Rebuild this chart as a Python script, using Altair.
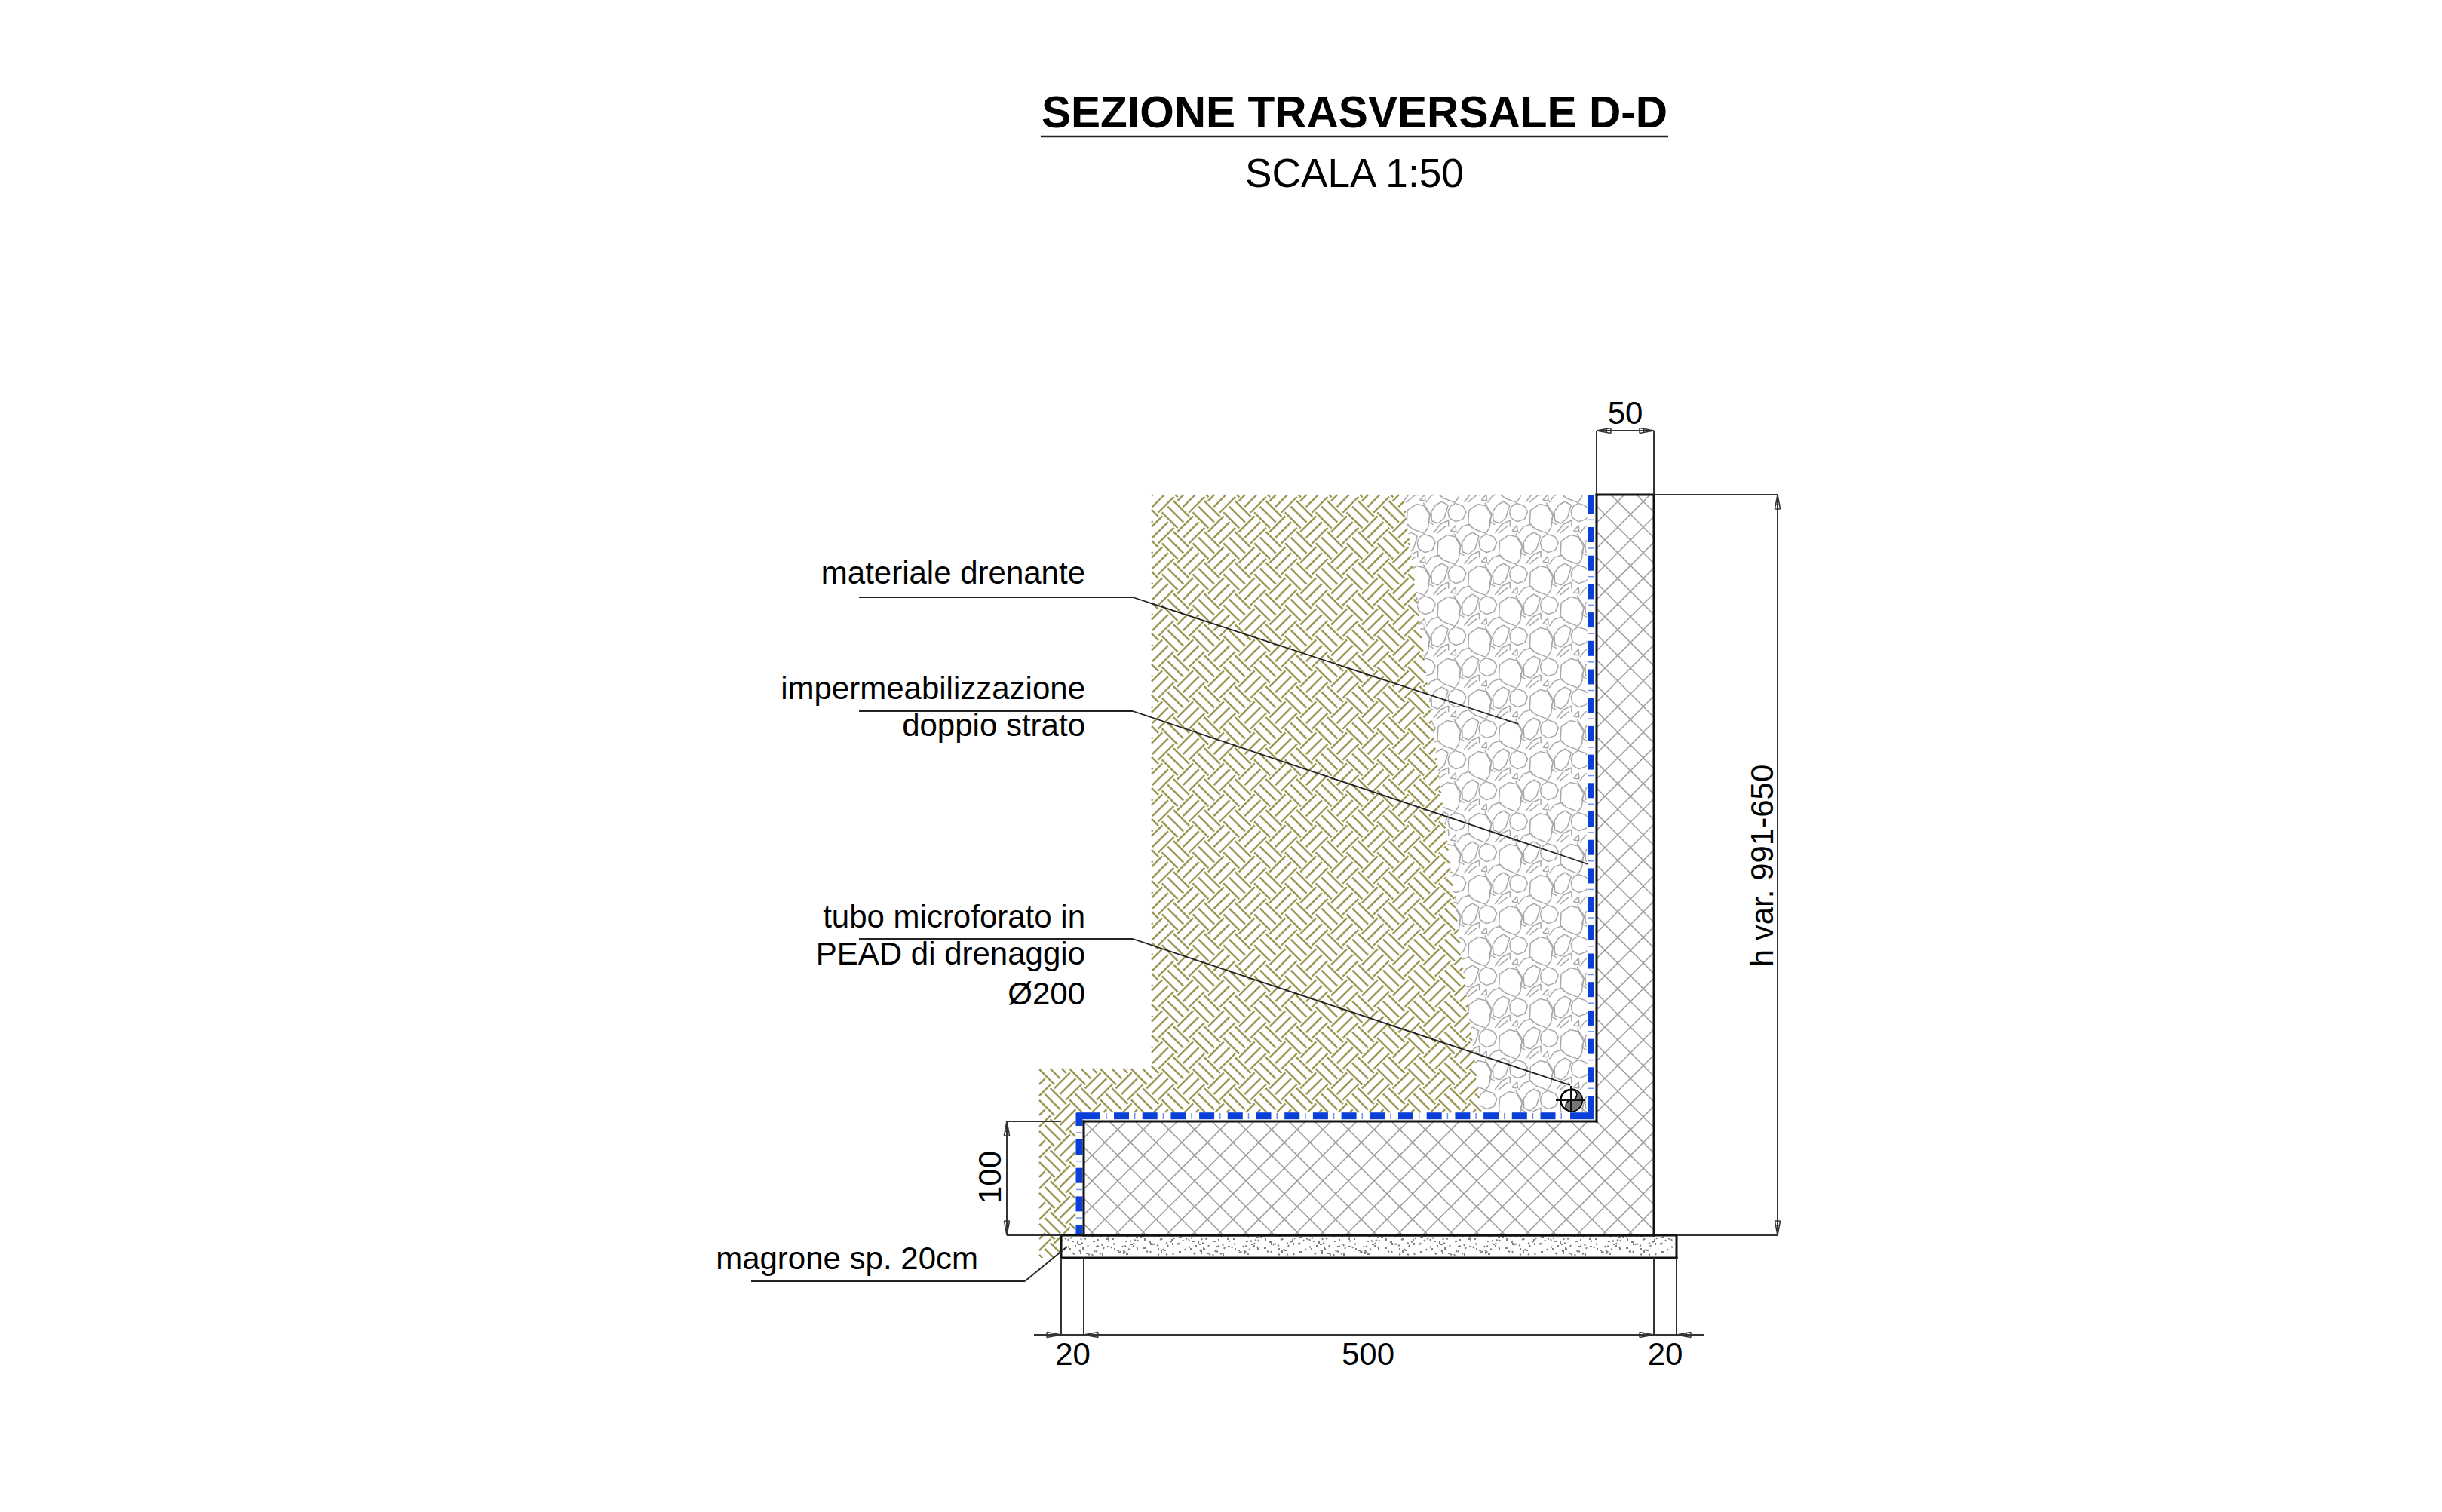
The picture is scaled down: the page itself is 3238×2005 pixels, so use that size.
import math
import altair as alt
import pandas as pd

alt.data_transformers.disable_max_rows()

W, H = 3238, 2005

# ---- drawing outlines (drawing units)
soil_poly = [(1527,656),(1861,656),(1964,1475),(1426,1475),(1426,1638),(1407,1638),(1407,1668),(1378,1668),(1378,1417),(1527,1417)]
gravel_poly = [(1861,656),(2104,656),(2104,1475),(1964,1475)]
concrete_poly = [(2117,656),(2193,656),(2193,1638),(1437,1638),(1437,1487),(2117,1487)]
magrone_poly = [(1407,1638),(2223,1638),(2223,1668),(1407,1668)]

# gravel motif: closed stones and open fragments around one cell origin
stones = [
    [(-2.7,-18.3),(7.3,-16),(14.7,-3.3),(12.3,13.3),(7.3,20.7),(-7.7,15),(-16,8.3),(-15,-10)],
    [(30.7,-21.7),(39,-16.7),(34,0),(25.7,7.3),(17.3,4),(16.7,-8.3),(22.3,-16.7)],
    [(-33.3,-19.3),(-23.3,-16),(-18.7,-8.3),(-22.7,1.7),(-32.7,5),(-41,0),(-42.7,-8.3),(-40,-15)],
    [(-32.7,10),(-39.3,17.3),(-32,18.3)],
]
fragments = [
    [(-62,20),(-52.7,8.3),(-42,3.3),(-42,11.7)],
    [(-57.7,20.7),(-45.3,10.7)],
    [(-31,20.7),(-24.3,11.7),(-14.3,8.3),(-11,13.3)],
    [(-69.3,5),(-66,-5),(-72.7,-15),(-75.3,-20)],
    [(-69.3,5),(-62,9)],
]
# concrete speckle, one tile
speck_x = [4,8,11,18,22,26,23,28,25,32,35,40,15,11,45,47,53,50,54,59,61,65,68,70,73,75,80,83,82,85,90,95,88,100,108,112,117,103,110,115,130,132,122,128,135,138,147,143,147,155,127]
speck_y = [12,13,12,21,20,18,27,27,30,32,33,33,33,25,23,22,20,33,32,13,15,23,20,25,28,30,22,23,30,33,15,18,27,25,25,29,29,10,12,17,13,12,20,25,28,33,32,17,18,30,33]

# blue membrane
dash_w = 9
dash_period = 37.7
dash_len = 20

# dimension line tips (x, y, direction dx, dy)
arrow_x = [2117,2193,2357,2357,1335,1335,1407,1437,2193,2223]
arrow_y = [571,571,656,1638,1487,1638,1770,1770,1770,1770]
arrow_dx = [1,-1,0,0,0,0,-1,1,-1,1]
arrow_dy = [0,0,1,-1,1,-1,0,0,0,0]

# thin lines
dim_lines = [
    [(2117,571),(2193,571)],[(2117,571),(2117,656)],[(2193,571),(2193,656)],
    [(2193,656),(2357,656)],[(2357,656),(2357,1638)],[(2223,1638),(2357,1638)],
    [(1335,1487),(1407,1487)],[(1335,1638),(1407,1638)],[(1335,1487),(1335,1638)],
    [(1371,1770),(2260,1770)],
    [(1407,1668),(1407,1770)],[(1437,1668),(1437,1770)],[(2193,1668),(2193,1770)],[(2223,1668),(2223,1770)],
]
leaders = [
    [(1139,792),(1502,792),(2013,960)],
    [(1139,943),(1502,943),(2106,1146)],
    [(1139,1245),(1502,1245),(2082,1439)],
    [(996,1699),(1359,1699),(1415,1653)],
]
pipe_lines = [[(2063,1459),(2102,1459)],[(2083,1440),(2083,1475)]]
pipe_x = [2083.3]
pipe_y = [1459]

# text
title_text = ["SEZIONE TRASVERSALE D-D"]
title_line = [(1380,181),(2212,181)]
scale_text = ["SCALA 1:50"]
label_text = ["materiale drenante","impermeabilizzazione","doppio strato","tubo microforato in","PEAD di drenaggio","Ø200","magrone sp. 20cm"]
label_x = [1439,1439,1439,1439,1439,1439,1297]
label_y = [774,927,976,1230,1279,1332,1683]
dim_text = ["50","20","500","20"]
dim_x = [2155,1422.5,1814,2208]
dim_y = [562,1810,1810,1810]
rot_text = ["100","h var. 991-650"]
rot_x = [1327,2351]
rot_y = [1561,1148]


def inside(px, py, poly):
    c = False
    n = len(poly)
    for i in range(n):
        x1, y1 = poly[i]
        x2, y2 = poly[(i + 1) % n]
        if (y1 > py) != (y2 > py) and px < x1 + (py - y1) * (x2 - x1) / (y2 - y1):
            c = not c
    return c


def clip(seg, poly):
    (ax, ay), (bx, by) = seg
    ts = [0.0, 1.0]
    n = len(poly)
    dx, dy = bx - ax, by - ay
    for i in range(n):
        x1, y1 = poly[i]
        x2, y2 = poly[(i + 1) % n]
        ex, ey = x2 - x1, y2 - y1
        d = dx * ey - dy * ex
        if abs(d) < 1e-9:
            continue
        t = ((x1 - ax) * ey - (y1 - ay) * ex) / d
        u = ((x1 - ax) * dy - (y1 - ay) * dx) / d
        if 0 < t < 1 and 0 <= u <= 1:
            ts.append(t)
    ts.sort()
    out = []
    for t0, t1 in zip(ts, ts[1:]):
        if t1 - t0 < 1e-6:
            continue
        m = (t0 + t1) / 2
        if inside(ax + dx * m, ay + dy * m, poly):
            out.append(((ax + dx * t0, ay + dy * t0), (ax + dx * t1, ay + dy * t1)))
    return out


def table(segs):
    return pd.DataFrame([{"x": a[0], "y": a[1], "x2": b[0], "y2": b[1]} for a, b in segs])


def path_segs(paths, closed=False):
    out = []
    for p in paths:
        for a, b in zip(p, p[1:]):
            out.append((a, b))
        if closed:
            out.append((p[-1], p[0]))
    return out


X = alt.Scale(domain=[8, W - 8], range=[0, W - 16], nice=False, zero=False)
Y = alt.Scale(domain=[8, H - 8], range=[0, H - 16], nice=False, zero=False)


def rules(segs, color, width, cap="butt"):
    return alt.Chart(table(segs)).mark_rule(color=color, strokeWidth=width, strokeCap=cap).encode(
        x=alt.X("x:Q", scale=X, axis=None),
        y=alt.Y("y:Q", scale=Y, axis=None),
        x2="x2:Q",
        y2="y2:Q",
    )


def texts(words, xs, ys, size, align="center", weight="normal", angle=0):
    d = pd.DataFrame({"t": words, "x": xs, "y": ys})
    return alt.Chart(d).mark_text(
        font="Liberation Sans", fontSize=size, fontWeight=weight, align=align,
        baseline="alphabetic", angle=angle, color="black",
    ).encode(x=alt.X("x:Q", scale=X, axis=None), y=alt.Y("y:Q", scale=Y, axis=None), text="t:N")


# soil weave
soil = []
px, py, half, off = 40.8, 41.0, 10.5, 7.66
for i in range(-2, 25):
    for j in range(-2, 28):
        cx, cy = 1558.8 - 4 * px + i * px, 682.2 + j * py - py
        for k in (-1, 0, 1):
            mx, my = cx + k * off, cy - k * off
            soil += clip(((mx - half, my - half), (mx + half, my + half)), soil_poly)
            ux, uy = cx + 20.4, cy + 20.4
            mx, my = ux + k * off, uy + k * off
            soil += clip(((mx - half, my + half), (mx + half, my - half)), soil_poly)

# gravel
gravel = []
motif = path_segs(stones, closed=True) + path_segs(fragments)
for r in range(-1, 22):
    for c in range(-2, 7):
        ox = 1962.7 + c * 81.6 + (r % 2) * 40.8
        oy = 686.7 + r * 41.0
        for a, b in motif:
            gravel += clip(((ox + a[0], oy + a[1]), (ox + b[0], oy + b[1])), gravel_poly)

# concrete cross hatch
concrete = []
for k in range(-60, 60):
    s = 2980 + k * 34
    concrete += clip(((s - 600, 600), (s - 1700, 1700)), concrete_poly)
    d = -50 + k * 34
    concrete += clip(((d + 600, 600), (d + 1700, 1700)), concrete_poly)

# magrone speckle
speck = []
ori = [(2,1),(1,2),(2,-1),(0,3),(3,0)]
for rep in range(6):
    for n, (sx, sy) in enumerate(zip(speck_x, speck_y)):
        o = ori[n % 5]
        x0 = 1408 + rep * 160 + sx
        if x0 < 2219:
            speck.append(((x0, 1630 + sy), (x0 + o[0], 1630 + sy + o[1])))
        x1 = 1408 + rep * 160 + (sx + 73) % 160
        if x1 < 2219:
            y1 = 1671 - sy
            speck.append(((x1, y1), (x1 + o[1], y1 + o[0])))

# blue membrane
blue = [((2109.5, 656), (2109.5, 681)), ((1431, 1476), (1431, 1493)), ((1431, 1625), (1431, 1638)),
        ((1427, 1479.7), (1458, 1479.7)), ((2082, 1479.7), (2114, 1479.7)), ((2109.5, 1453), (2109.5, 1484))]
thin = []
for k in range(20):
    blue.append(((2109.5, 699 + k * dash_period), (2109.5, 699 + k * dash_period + dash_len)))
for k in range(16):
    blue.append(((1477 + k * dash_period, 1479.7), (1477 + k * dash_period + dash_len, 1479.7)))
for k in range(3):
    blue.append(((1431, 1511 + k * dash_period), (1431, 1511 + k * dash_period + dash_len)))
for k in range(21):
    y = 689.3 + k * dash_period
    thin.append(((2105, y), (2114, y)))
for k in range(17):
    x = 1467 + k * dash_period
    thin.append(((x, 1476), (x, 1484)))
for k in range(4):
    y = 1502 + k * dash_period
    thin.append(((1427, y), (1435, y)))

# arrow outlines
arrows = []
for tx, ty, dx, dy in zip(arrow_x, arrow_y, arrow_dx, arrow_dy):
    bx, by = tx + dx * 19, ty + dy * 19
    e1 = (bx - dy * 3.6, by + dx * 3.6)
    e2 = (bx + dy * 3.6, by - dx * 3.6)
    arrows += [((tx, ty), e1), ((tx, ty), e2), (e1, e2)]
    for f in (0.4, 0.7):
        arrows.append(((tx + dx * 19 * f - dy * 3.6 * f, ty + dy * 19 * f + dx * 3.6 * f),
                       (tx + dx * 19 * f + dy * 3.6 * f, ty + dy * 19 * f - dx * 3.6 * f)))

pipe_df = pd.DataFrame({"x": pipe_x, "y": pipe_y})
yin = "M0,-1 A1,1 0 0,1 0,1 A0.5,0.5 0 0,1 0,0 A0.5,0.5 0 0,0 0,-1 Z"
pipe_circle = alt.Chart(pipe_df).mark_point(filled=True, shape="circle", size=775, fill="white", stroke="black", strokeWidth=2.5, opacity=1).encode(
    x=alt.X("x:Q", scale=X, axis=None), y=alt.Y("y:Q", scale=Y, axis=None))
pipe_yin = alt.Chart(pipe_df).mark_point(filled=True, shape=yin, size=900, fill="#777777", stroke="black", strokeWidth=1.5, opacity=1).encode(
    x=alt.X("x:Q", scale=X, axis=None), y=alt.Y("y:Q", scale=Y, axis=None))

chart = alt.layer(
    rules(soil, "#9a9550", 2.4),
    rules(gravel, "#a8a8a8", 1.5),
    rules(concrete, "#999999", 1.5),
    rules(speck, "#808080", 2),
    rules(blue, "#0a3fd8", dash_w),
    rules(thin, "#6f8ff0", 1.5),
    rules(path_segs([concrete_poly], closed=True), "#111111", 3, "square"),
    rules(path_segs([magrone_poly], closed=True), "#111111", 3, "square"),
    rules(path_segs(dim_lines), "#333333", 2),
    rules(arrows, "#333333", 1.5),
    rules(path_segs(leaders), "#222222", 1.8),
    pipe_circle,
    pipe_yin,
    rules(path_segs(pipe_lines), "#111111", 2),
    rules([tuple(title_line)], "#222222", 2.5),
    texts(title_text, [1796], [169], 58.6, weight="bold"),
    texts(scale_text, [1796], [248], 53.2),
    texts(label_text, label_x, label_y, 42, align="right"),
    texts(dim_text, dim_x, dim_y, 42),
    texts(rot_text, rot_x, rot_y, 42, angle=270),
).properties(width=W - 16, height=H - 16, padding=0, autosize="none", background="white").configure_view(stroke=None)

chart.save("out.html", embed_options={"renderer": "svg", "actions": False})
